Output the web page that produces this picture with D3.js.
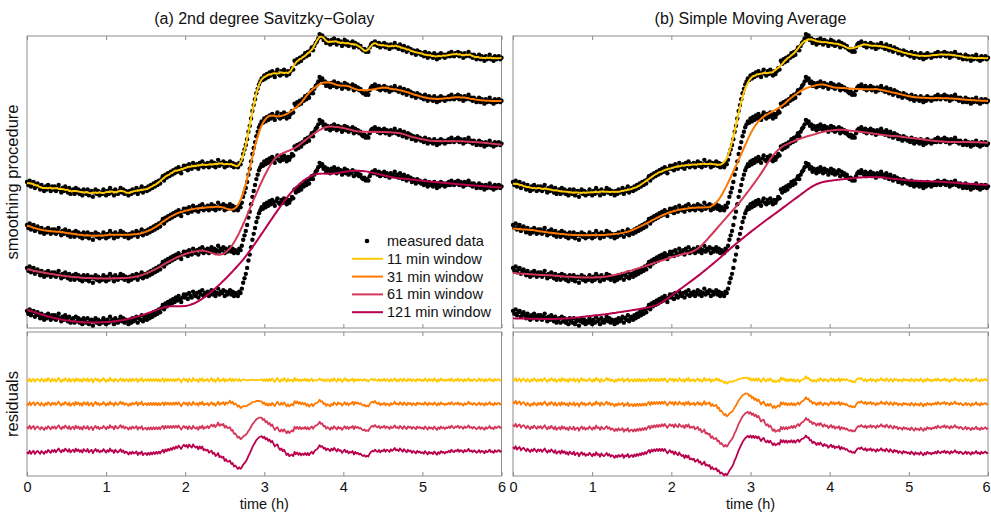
<!DOCTYPE html>
<html>
<head>
<meta charset="utf-8">
<script src="https://cdn.jsdelivr.net/npm/d3@7"></script>
<style>
  body { margin: 0; background: #fff; }
  svg { display: block; font-family: "Liberation Sans", Arial, sans-serif; }
</style>
</head>
<body>
<svg id="chart" width="991" height="512"></svg>
<script>
// measured signal, one sample per minute (0..360 min)
const timeMin = d3.range(0, 361, 1);
const measured = [
   2,  0,  3, -1,  1,  2, -2,  0,  1, -1, -3,  0, -2, -4, -1, -3,  0, -2, -4, -1,
  -3, -1, -4, -2,  0, -3, -5, -2, -4, -1, -3, -5, -2, -6, -4, -3, -6, -2, -5, -3,
  -6, -4, -7, -3, -5, -6, -3, -7, -5, -4, -8, -5, -3, -6, -4, -7, -5, -6, -3, -5,
  -7, -4, -6, -2, -5, -4, -7, -3, -5, -6, -4, -2, -5, -3, -6, -4, -5, -7, -4, -6,
  -3, -5, -4, -2, -6, -3, -4, -1, -5, -3, -2, -4, -1, -3,  0, -2,  1, -1,  2,  0,
   3,  1,  4,  6,  3,  7,  5,  8,  6,  9,  7, 10,  8, 11,  9, 12, 10,  8, 11, 13,
  11, 13, 10, 14, 12, 11, 15, 13, 12, 14, 11, 15, 13, 16, 12, 14, 13, 15, 12, 14,
  16, 13, 15, 12, 14, 17, 13, 15, 14, 16, 12, 15, 13, 14, 16, 13, 15, 12, 14, 13,
  12, 15, 14, 17, 21, 24, 27, 31, 36, 40, 45, 50, 54, 58, 62, 65, 68, 70, 72, 71,
  74, 72, 75, 73, 76, 74, 77, 75, 73, 76, 78, 75, 74, 77, 75, 78, 76, 74, 77, 75,
  77, 79, 78, 84, 82, 85, 83, 86, 84, 87, 86, 89, 87, 90, 88, 91, 93, 91, 94, 96,
  97, 99,102,100,101, 98, 99, 96, 98, 97, 95, 98, 96, 99, 97, 95, 98, 96, 97, 94,
  96, 98, 95, 97, 94, 96, 95, 97, 93, 96, 94, 95, 93, 94, 92, 91, 92, 90, 91, 90,
  93, 95, 96, 95, 97, 95, 94, 96, 93, 95, 94, 96, 93, 95, 94, 92, 95, 93, 94, 96,
  93, 94, 92, 95, 93, 91, 94, 92, 90, 93, 91, 92, 89, 91, 90, 88, 91, 89, 90, 88,
  89, 87, 90, 88, 86, 89, 87, 88, 86, 89, 87, 85, 88, 86, 89, 87, 88, 86, 88, 87,
  89, 87, 90, 88, 87, 89, 88, 90, 87, 89, 88, 86, 89, 87, 88, 90, 87, 88, 86, 88,
  87, 85, 86, 88, 85, 87, 86, 84, 87, 85, 86, 88, 85, 86, 84, 87, 85, 86, 87, 85,
  86
];

const windowsMin = [11, 31, 61, 121];
const legendLabels = ["11 min window", "31 min window", "61 min window", "121 min window"];
const colors = ["#ffc800", "#ff7a00", "#d4375a", "#b8004c"];
const dataShift = [0, -29, -58, -87];     // vertical stacking of the copies
const residShift = [0, -28, -56, -84];
const xTicks = [0, 1, 2, 3, 4, 5, 6];
const panelTitles = ["(a) 2nd degree Savitzky\u2212Golay", "(b) Simple Moving Average"];

// smoothing helpers
function sgolay2(y, h) {
  const n = y.length;
  return y.map((_, i) => {
    const lo = Math.max(0, Math.min(i - h, n - 1 - 2 * h));
    const hi = lo + 2 * h;
    let S0 = 0, S1 = 0, S2 = 0, S3 = 0, S4 = 0, T0 = 0, T1 = 0, T2 = 0;
    for (let j = lo; j <= hi; j++) {
      const u = j - i, u2 = u * u;
      S0++; S1 += u; S2 += u2; S3 += u2 * u; S4 += u2 * u2;
      T0 += y[j]; T1 += u * y[j]; T2 += u2 * y[j];
    }
    const det = S0 * (S2 * S4 - S3 * S3) - S1 * (S1 * S4 - S3 * S2) + S2 * (S1 * S3 - S2 * S2);
    const a = T0 * (S2 * S4 - S3 * S3) - S1 * (T1 * S4 - S3 * T2) + S2 * (T1 * S3 - S2 * T2);
    return a / det;
  });
}
function movmean(y, h) {
  const n = y.length;
  return y.map((_, i) => d3.mean(y.slice(Math.max(0, i - h), Math.min(n, i + h + 1))));
}
const halfWidth = w => (w - 1) / 2; // one sample per minute

const svg = d3.select("#chart");

const panels = [
  { x0: 27, x1: 501.5, smooth: sgolay2, title: panelTitles[0], legend: true },
  { x0: 513, x1: 988, smooth: movmean, title: panelTitles[1], legend: false }
];
const topBox = { y0: 36, y1: 328 };
const botBox = { y0: 332, y1: 476 };

const yTop = d3.scaleLinear().domain([-96.6, 100.7]).range([topBox.y1, topBox.y0]);
const yRes = d3.scaleLinear().domain([-112.9, 56.5]).range([botBox.y1, botBox.y0]);

const frameColor = "#8c8c8c";
const textColor = "#111";

panels.forEach((p, pi) => {
  const x = d3.scaleLinear().domain([0, 6]).range([p.x0, p.x1]);
  const tx = t => x(t / 60);
  const smoothed = windowsMin.map(w => p.smooth(measured, halfWidth(w)));

  // frames and inward ticks on both edges
  [topBox, botBox].forEach(b => {
    svg.append("rect")
      .attr("x", p.x0).attr("y", b.y0)
      .attr("width", p.x1 - p.x0).attr("height", b.y1 - b.y0)
      .attr("fill", "none").attr("stroke", frameColor).attr("stroke-width", 1);
    const ax1 = svg.append("g").attr("transform", `translate(0,${b.y1})`)
      .call(d3.axisBottom(x).tickValues(xTicks).tickSize(-4)
        .tickFormat(b === botBox ? d3.format("d") : () => "").tickPadding(6));
    const ax2 = svg.append("g").attr("transform", `translate(0,${b.y0})`)
      .call(d3.axisTop(x).tickValues(xTicks).tickSize(-4).tickFormat(() => ""));
    [ax1, ax2].forEach(a => {
      a.select(".domain").remove();
      a.selectAll(".tick line").attr("stroke", frameColor);
      a.selectAll(".tick text").attr("font-size", 14.5).attr("fill", textColor)
        .attr("font-family", "Liberation Sans, Arial, sans-serif");
    });
    // last label of the right panel sits at the page edge
    if (pi === 1 && b === botBox) {
      ax1.selectAll(".tick text").filter(d => d === 6).attr("dx", -2);
    }
  });

  // measured data dots
  dataShift.forEach(s => {
    svg.append("g").selectAll("circle")
      .data(measured)
      .join("circle")
      .attr("cx", (v, i) => tx(timeMin[i]))
      .attr("cy", v => yTop(v + s))
      .attr("r", 2.2)
      .attr("fill", "#000");
  });

  // smoothed lines
  smoothed.forEach((sm, k) => {
    svg.append("path")
      .datum(sm)
      .attr("fill", "none")
      .attr("stroke", colors[k])
      .attr("stroke-width", 2)
      .attr("stroke-linejoin", "round")
      .attr("d", d3.line().x((v, i) => tx(timeMin[i])).y(v => yTop(v + dataShift[k])));
  });

  // residuals
  smoothed.forEach((sm, k) => {
    const res = measured.map((v, i) => v - sm[i]);
    svg.append("path")
      .datum(res)
      .attr("fill", "none")
      .attr("stroke", colors[k])
      .attr("stroke-width", 1.8)
      .attr("stroke-linejoin", "round")
      .attr("d", d3.line().x((v, i) => tx(timeMin[i])).y(v => yRes(v + residShift[k])));
  });

  // titles and x label
  svg.append("text")
    .attr("x", (p.x0 + p.x1) / 2).attr("y", 24)
    .attr("text-anchor", "middle").attr("font-size", 16).attr("fill", textColor)
    .text(p.title);
  svg.append("text")
    .attr("x", (p.x0 + p.x1) / 2).attr("y", 509)
    .attr("text-anchor", "middle").attr("font-size", 14.5).attr("fill", textColor)
    .text("time (h)");

  if (p.legend) {
    const lg = svg.append("g").attr("transform", "translate(352,241)");
    lg.append("circle").attr("cx", 15).attr("cy", 0).attr("r", 2.3).attr("fill", "#000");
    lg.append("text").attr("x", 35).attr("y", 0).attr("dy", "0.35em")
      .attr("font-size", 14.5).attr("fill", textColor).text("measured data");
    legendLabels.forEach((lab, k) => {
      const yy = 17.8 * (k + 1);
      lg.append("line").attr("x1", 0).attr("x2", 31).attr("y1", yy).attr("y2", yy)
        .attr("stroke", colors[k]).attr("stroke-width", 2);
      lg.append("text").attr("x", 35).attr("y", yy).attr("dy", "0.35em")
        .attr("font-size", 14.5).attr("fill", textColor).text(lab);
    });
  }
});

// y labels
svg.append("text")
  .attr("transform", `translate(18,${(topBox.y0 + topBox.y1) / 2}) rotate(-90)`)
  .attr("text-anchor", "middle").attr("font-size", 16.5).attr("fill", textColor)
  .text("smoothing procedure");
svg.append("text")
  .attr("transform", `translate(18,${(botBox.y0 + botBox.y1) / 2}) rotate(-90)`)
  .attr("text-anchor", "middle").attr("font-size", 16.5).attr("fill", textColor)
  .text("residuals");
</script>
</body>
</html>
